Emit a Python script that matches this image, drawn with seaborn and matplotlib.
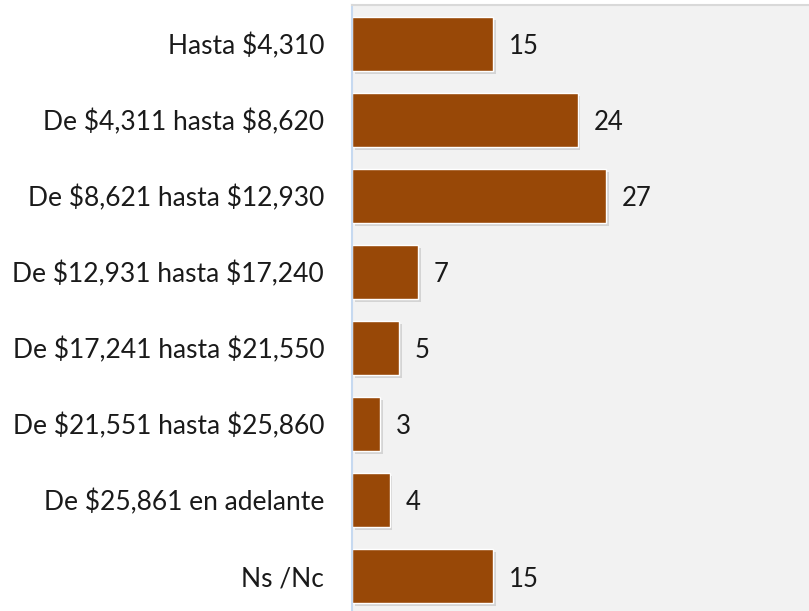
import seaborn as sns
import pandas as pd
import matplotlib.pyplot as plt
import matplotlib.patheffects as pe

categorias = ['Hasta $4,310', 'De $4,311 hasta $8,620', 'De $8,621 hasta $12,930',
              'De $12,931 hasta $17,240', 'De $17,241 hasta $21,550',
              'De $21,551 hasta $25,860', 'De $25,861 en adelante', 'Ns /Nc']
valores = [15, 24, 27, 7, 5, 3, 4, 15]

df = pd.DataFrame({'categoria': categorias, 'valor': valores})

sns.set_style('white')
plt.rcParams['font.family'] = ['Lato', 'DejaVu Sans']
plt.rcParams['text.parse_math'] = False

fig = plt.figure(figsize=(8.09, 6.11), dpi=100)
ax = fig.add_axes([0.435, 0.0, 0.565, 0.991])
ax.set_facecolor('#f2f2f2')

sns.barplot(x='valor', y='categoria', data=df, color='#984807', width=0.71,
            saturation=1, ax=ax)

for bar in ax.patches:
    bar.set_path_effects([pe.SimplePatchShadow(offset=(2, -2.5), shadow_rgbFace='#b0b0b0', alpha=0.45),
                          pe.Normal()])

for i, v in enumerate(valores):
    ax.text(v + 1.7, i + 0.04, str(v), va='center', ha='left', fontsize=18.5, color='#1a1a1a')

ax.set_xlim(0, 48.6)
ax.set_ylim(7.46, -0.5)
ax.set_xlabel('')
ax.set_ylabel('')
ax.set_xticks([])
ax.tick_params(axis='y', length=0, pad=20, labelsize=19, labelcolor='#1a1a1a')

for s in ['right', 'bottom']:
    ax.spines[s].set_visible(False)
ax.spines['top'].set_color('#d9d9d9')
ax.spines['top'].set_linewidth(1.5)
ax.spines['left'].set_color('#c6d9f0')
ax.spines['left'].set_linewidth(1.5)

plt.savefig('out.png', dpi=100)
